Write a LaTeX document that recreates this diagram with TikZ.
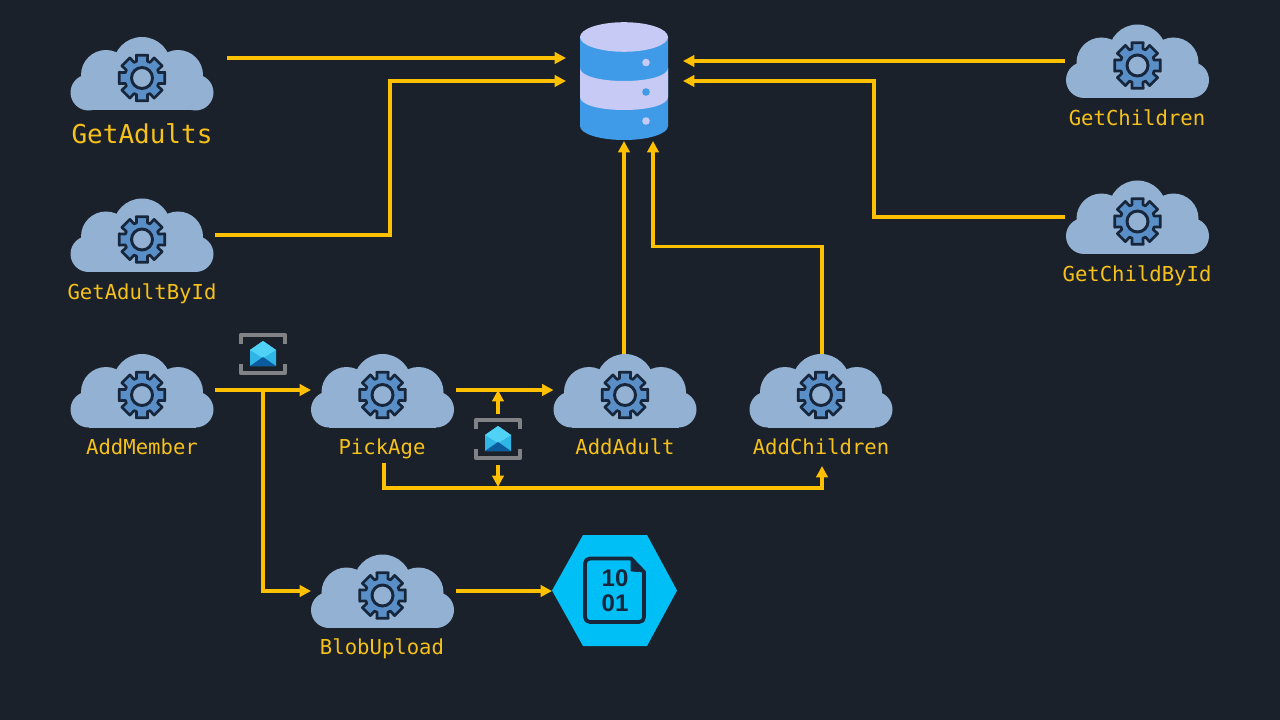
\documentclass[tikz,border=0pt]{standalone}
\usepackage{fontspec}
\setmainfont{DejaVu Sans Mono}
\newfontfamily\digitfont{Liberation Sans}
\usetikzlibrary{arrows.meta}
\definecolor{bg}{HTML}{1B212A}
\definecolor{cloudc}{HTML}{92B1D3}
\definecolor{gearc}{HTML}{5A8EC6}
\definecolor{darkc}{HTML}{17263A}
\definecolor{wire}{HTML}{FFC000}
\definecolor{labelc}{HTML}{F5C11A}
\definecolor{dblight}{HTML}{C8CAF6}
\definecolor{dbblue}{HTML}{3F9BE8}
\definecolor{hexc}{HTML}{00BEF6}
\definecolor{bracket}{HTML}{808285}
\definecolor{envtop}{HTML}{50D2F6}
\definecolor{envmid}{HTML}{30B6E6}
\definecolor{envlow}{HTML}{0B5C9E}
\tikzset{
  cloudbox/.style={minimum width=143*0.75pt,minimum height=74*0.75pt,inner sep=0pt,outer sep=0pt},
  lab/.style={text=labelc,font=\fontsize{15.45pt}{18pt}\selectfont,inner sep=0pt,anchor=base},
  biglab/.style={text=labelc,font=\fontsize{19.5pt}{22pt}\selectfont,inner sep=0pt,anchor=base},
  conn/.style={draw=wire,line width=2.6pt,-{Triangle[length=8.5pt,width=8.5pt]},line join=miter},
  qbox/.style={minimum width=48*0.75pt,minimum height=42*0.75pt,inner sep=0pt,outer sep=0pt},
  digit/.style={text=darkc,font=\digitfont\bfseries\fontsize{18pt}{20pt}\selectfont,inner sep=0pt},
  cloudicon/.pic={
    \fill[cloudc] (0,-8) circle (29);
    \fill[cloudc] (-36,1) circle (25);
    \fill[cloudc] (36,1) circle (25);
    \fill[cloudc] (-53.5,18.5) circle (18);
    \fill[cloudc] (53.5,18.5) circle (18);
    \fill[cloudc] (-53.5,1) rectangle (53.5,36.5);
    \begin{scope}[shift={(0,4)}]
      \draw[fill=gearc,draw=darkc,line width=2pt,line join=round]
        (-14:23.5) \foreach \a in {0,45,...,315} {
          -- ({\a-14}:23.5) -- ({\a+14}:23.5) -- ({\a+18}:17.5) -- ({\a+27}:17.5)
        } -- cycle;
      \draw[fill=cloudc,draw=darkc,line width=2.2pt] (0,0) circle (10.5);
    \end{scope}
  },
  queueicon/.pic={
    \draw[bracket,line width=3.6pt,line join=round] (-22,-10) -- (-22,-19) -- (22,-19) -- (22,-10);
    \draw[bracket,line width=3.6pt,line join=round] (-22,10) -- (-22,19) -- (22,19) -- (22,10);
    \fill[envmid] (-13,-4) -- (0,-13) -- (13,-4) -- (13,12) -- (-13,12) -- cycle;
    \fill[envtop] (-13,-4) -- (0,-13) -- (13,-4) -- (0,4) -- cycle;
    \fill[envlow] (-13,12) -- (0,3) -- (13,12) -- cycle;
  }
}
\begin{document}
\begin{tikzpicture}[x=0.75pt,y=-0.75pt]
\useasboundingbox (0,0) rectangle (1280,720);
\fill[bg] (0,0) rectangle (1280,720);

% clouds
\foreach \n/\x/\y in {GetAdults/142/74,GetAdultById/142/235.5,AddMember/142/391,PickAge/382.5/391,AddAdult/625/391,AddChildren/821/391,BlobUpload/382.5/591.5,GetChildren/1137.5/61.5,GetChildById/1137.5/217.5} {
  \pic at (\x,\y) {cloudicon};
  \node[cloudbox] (\n) at (\x,\y) {};
}
% labels
\node[biglab] (lGetAdults) at (142,143.5) {GetAdults};
\node[lab] (lGetAdultById) at (142,299.5) {GetAdultById};
\node[lab] (lAddMember) at (142,454.5) {AddMember};
\node[lab] (lPickAge) at (382,454.5) {PickAge};
\node[lab] (lAddAdult) at (625,454.5) {AddAdult};
\node[lab] (lAddChildren) at (821,454.5) {AddChildren};
\node[lab] (lBlobUpload) at (382,654.5) {BlobUpload};
\node[lab] (lGetChildren) at (1137,125.5) {GetChildren};
\node[lab] (lGetChildById) at (1137,281.5) {GetChildById};

% database
\node[minimum width=88*0.75pt,minimum height=118*0.75pt,inner sep=0pt,outer sep=0pt] (db) at (624,81) {};
\fill[dbblue] (580,37) -- (580,126) .. controls (580,134) and (600,140) .. (624,140) .. controls (648,140) and (668,134) .. (668,126) -- (668,37) -- cycle;
\fill[dblight] (580,68) .. controls (580,76) and (600,81) .. (624,81) .. controls (648,81) and (668,76) .. (668,68)
  -- (668,97) .. controls (668,105) and (648,110) .. (624,110) .. controls (600,110) and (580,105) .. (580,97) -- cycle;
\fill[dblight] (624,37) ellipse [x radius=44,y radius=14.8];
\fill[dblight] (646,62.5) circle (3.8);
\fill[dbblue] (646,92) circle (3.8);
\fill[dblight] (646,121) circle (3.8);

% queues
\pic at (263,354) {queueicon};
\node[qbox] (q1) at (263,354) {};
\pic at (498,439) {queueicon};
\node[qbox] (q2) at (498,439) {};

% blob
\node[minimum width=125*0.75pt,minimum height=111*0.75pt,inner sep=0pt,outer sep=0pt] (blob) at (614.5,590.5) {};
\fill[hexc] (552,590.5) -- (583,535) -- (647,535) -- (677,590.5) -- (647,646) -- (583,646) -- cycle;
\draw[darkc,line width=2.8pt,line join=round] (590,558.5) -- (631,558.5) -- (644,572) -- (644,617) .. controls (644,620) and (642,622) .. (639,622) -- (590,622) .. controls (587,622) and (585,620) .. (585,617) -- (585,563.5) .. controls (585,560.5) and (587,558.5) .. (590,558.5) -- cycle;
\filldraw[darkc,line width=0.5pt,line join=round] (631,558.5) -- (644,572) -- (631,571) -- cycle;
\node[digit] (b10) at (615,578) {10};
\node[digit] (b01) at (615,603) {01};

% connectors
\draw[conn] ([shift={(13.5,-16)}]GetAdults.east) -- ([shift={(-14,-23)}]db.west);
\draw[conn] ([shift={(1.5,-0.5)}]GetAdultById.east) -- ++(175,0) |- ([xshift=-14*0.75pt]db.west);
\draw[conn] ([shift={(-1,-0.5)}]GetChildren.west) -- ([shift={(15,-20)}]db.east);
\draw[conn] ([shift={(-1,-0.5)}]GetChildById.west) -- ++(-191,0) |- ([xshift=15*0.75pt]db.east);
\draw[conn] ([xshift=-0.75pt]AddAdult.north) -- ([yshift=-0.75pt]db.south);
\draw[conn] ([xshift=0.75pt]AddChildren.north) -- ++(0,-107.5) -| ([shift={(29,1)}]db.south);
\draw[conn] ([shift={(1.5,-1)}]AddMember.east) -- ([yshift=0.75pt]PickAge.west);
\draw[conn] ([shift={(49.5,-1)}]AddMember.east) -- ++(0,201) -- ([shift={(0,-0.5)}]BlobUpload.west);
\draw[conn] ([shift={(2,-1)}]PickAge.east) -- ([yshift=0.75pt]AddAdult.west);
\draw[conn] ([shift={(1.5,35)}]PickAge.south) |- ++(219,25) -| ([shift={(1,38)}]AddChildren.south);
\draw[conn] ([yshift=4*0.75pt]q2.north) -- ([yshift=0.75pt]q2.north |- PickAge.east);
\draw[conn] ([yshift=-5*0.75pt]q2.south) -- ([yshift=-27*0.75pt]q2.south);
\draw[conn] ([shift={(2,-0.5)}]BlobUpload.east) -- ([shift={(0,-0.5)}]blob.west |- BlobUpload.east);
\end{tikzpicture}
\end{document}
